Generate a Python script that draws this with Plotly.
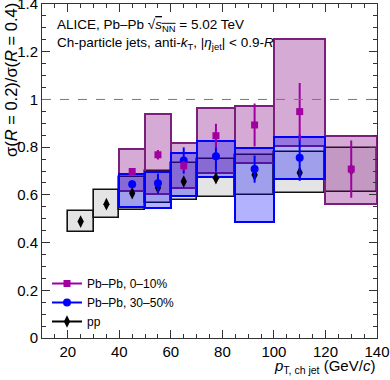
import plotly.graph_objects as go

# ---------------- data ----------------
# Pb-Pb 0-10%
aa010_lo = [40, 50, 60, 70, 85, 100, 120]
aa010_hi = [50, 60, 70, 85, 100, 120, 140]
aa010_val = [0.698, 0.768, 0.722, 0.848, 0.893, 0.949, 0.708]
aa010_stat = [0.012, 0.020, 0.020, 0.050, 0.090, 0.120, 0.120]
aa010_sys_lo = [0.618, 0.603, 0.628, 0.693, 0.735, 0.805, 0.562]
aa010_sys_hi = [0.791, 0.938, 0.817, 0.964, 0.973, 1.253, 0.847]

# Pb-Pb 30-50%
aa3050_lo = [40, 50, 60, 70, 85, 100]
aa3050_hi = [50, 60, 70, 85, 100, 120]
aa3050_val = [0.645, 0.649, 0.744, 0.762, 0.708, 0.756]
aa3050_stat = [0.016, 0.040, 0.055, 0.065, 0.057, 0.097]
aa3050_sys_lo = [0.551, 0.547, 0.597, 0.673, 0.486, 0.666]
aa3050_sys_hi = [0.687, 0.696, 0.777, 0.825, 0.796, 0.844]

# pp
pp_lo = [20, 30, 40, 50, 60, 70, 85, 100, 120]
pp_hi = [30, 40, 50, 60, 70, 85, 100, 120, 140]
pp_val = [0.488, 0.561, 0.607, 0.630, 0.656, 0.670, 0.684, 0.693, 0.705]
pp_stat = [0.008, 0.008, 0.008, 0.008, 0.008, 0.008, 0.008, 0.008, 0.008]
pp_sys_lo = [0.444, 0.501, 0.537, 0.565, 0.579, 0.590, 0.600, 0.607, 0.610]
pp_sys_hi = [0.534, 0.622, 0.674, 0.702, 0.733, 0.750, 0.766, 0.781, 0.798]

# tick labels
x_ticks = [20, 40, 60, 80, 100, 120, 140]
y_ticks = [0, 0.2, 0.4, 0.6, 0.8, 1.0, 1.2, 1.4]
y_tick_text = ["0", "0.2", "0.4", "0.6", "0.8", "1", "1.2", "1.4"]

REF_LINE = 1.0
FONT = "Liberation Sans, Arial, Helvetica, sans-serif"

PURPLE_EDGE = "#7a1f7a"
PURPLE_FILL = "rgba(128,0,128,0.33)"
PURPLE_MK = "#a000a0"
BLUE_EDGE = "#0000ff"
BLUE_FILL = "rgba(0,0,255,0.30)"
PP_FILL = "#e4e4e4"


def centers(lo, hi):
    return [(a + b) / 2 for a, b in zip(lo, hi)]


def widths(lo, hi):
    return [b - a for a, b in zip(lo, hi)]


def heights(lo, hi):
    return [b - a for a, b in zip(lo, hi)]


fig = go.Figure()

# systematic boxes
def add_box(lo, hi, slo, shi, fill, edge, lw):
    fig.add_trace(go.Bar(
        x=centers(lo, hi), width=widths(lo, hi),
        base=slo, y=heights(slo, shi),
        marker=dict(color=fill, line=dict(color=edge, width=lw)),
        showlegend=False, hoverinfo="skip"))

add_box(pp_lo, pp_hi, pp_sys_lo, pp_sys_hi, PP_FILL, "#111111", 1.6)
add_box(aa010_lo, aa010_hi, aa010_sys_lo, aa010_sys_hi, PURPLE_FILL, PURPLE_EDGE, 2)
add_box(aa3050_lo, aa3050_hi, aa3050_sys_lo, aa3050_sys_hi, BLUE_FILL, BLUE_EDGE, 2)

# points with stat errors
fig.add_trace(go.Scatter(
    x=centers(pp_lo, pp_hi), y=pp_val, mode="markers",
    marker=dict(symbol="diamond-tall", size=9, color="black"),
    error_y=dict(type="data", array=pp_stat, color="black", thickness=1.5, width=0),
    showlegend=False, hoverinfo="skip"))
fig.add_trace(go.Scatter(
    x=centers(aa3050_lo, aa3050_hi), y=aa3050_val, mode="markers",
    marker=dict(symbol="circle", size=8, color=BLUE_EDGE),
    error_y=dict(type="data", array=aa3050_stat, color=BLUE_EDGE, thickness=2, width=0),
    showlegend=False, hoverinfo="skip"))
fig.add_trace(go.Scatter(
    x=centers(aa010_lo, aa010_hi), y=aa010_val, mode="markers",
    marker=dict(symbol="square", size=7, color=PURPLE_MK),
    error_y=dict(type="data", array=aa010_stat, color=PURPLE_MK, thickness=2, width=0),
    showlegend=False, hoverinfo="skip"))

# legend entries
for name, sym, col, sz in [("Pb\u2013Pb, 0\u201310%", "square", PURPLE_MK, 7),
                           ("Pb\u2013Pb, 30\u201350%", "circle", BLUE_EDGE, 8),
                           ("pp", "diamond-tall", "black", 9)]:
    fig.add_trace(go.Scatter(
        x=[None], y=[None], mode="lines+markers", name=name,
        marker=dict(symbol=sym, size=sz, color=col),
        line=dict(color=col, width=2)))

fig.add_shape(type="line", xref="paper", x0=0, x1=1, yref="y", y0=REF_LINE, y1=REF_LINE,
              line=dict(color="#777777", width=1, dash="dash"))

axis_common = dict(
    showline=True, linecolor="#333333", linewidth=1, mirror="allticks",
    ticks="inside", tickcolor="#333333", tickwidth=1, ticklen=8,
    showgrid=False, zeroline=False, automargin=False, ticklabeloverflow="allow",
    tickfont=dict(family=FONT, size=15, color="black"),
)

fig.update_xaxes(range=[10, 140], tickvals=x_ticks,
                 minor=dict(dtick=5, tick0=0, ticklen=4, ticks="inside", tickcolor="#333333"),
                 **axis_common)
fig.update_yaxes(range=[0, 1.4001], tickvals=y_ticks, ticktext=y_tick_text,
                 minor=dict(dtick=0.05, tick0=0, ticklen=4, ticks="inside", tickcolor="#333333"),
                 **axis_common)

ml, mr, mt, mb = 42, 13, 4, 42
pw = 390 - ml - mr
ph = 380 - mt - mb


def px(xp):
    return (xp - ml) / pw


def py(yp):
    return (380 - mb - yp) / ph


fig.add_annotation(xref="paper", yref="paper", x=px(55), y=py(26), xanchor="left", yanchor="middle",
                   showarrow=False, font=dict(family=FONT, size=13.5, color="black"),
                   text="ALICE, Pb\u2013Pb \u221a<span style=\"text-decoration:overline\"><i>s</i><sub>NN</sub></span> = 5.02 TeV")
fig.add_annotation(xref="paper", yref="paper", x=px(55), y=py(44), xanchor="left", yanchor="middle",
                   showarrow=False, font=dict(family=FONT, size=13.5, color="black"),
                   text="Ch-particle jets, anti-<i>k</i><sub>T</sub>, |<i>\u03b7</i><sub>jet</sub>| &lt; 0.9-<i>R</i>")
fig.add_annotation(xref="paper", yref="paper", x=px(11), y=py(1), xanchor="center", yanchor="top",
                   textangle=-90, showarrow=False, font=dict(family=FONT, size=16.5, color="black"),
                   text="\u03c3(<i>R</i> = 0.2)/\u03c3(<i>R</i> = 0.4)")
fig.add_annotation(xref="paper", yref="paper", x=1.0, y=py(366), xanchor="right", yanchor="middle",
                   showarrow=False, font=dict(family=FONT, size=15, color="black"),
                   text="<i>p</i><sub>T, ch jet</sub> (GeV/<i>c</i>)")

fig.update_layout(
    width=390, height=380,
    margin=dict(l=ml, r=mr, t=mt, b=mb, pad=0, autoexpand=False),
    paper_bgcolor="white", plot_bgcolor="white",
    barmode="overlay", bargap=0,
    font=dict(family=FONT, color="black"),
    legend=dict(x=px(47), y=py(269), xanchor="left", yanchor="top",
                bgcolor="rgba(0,0,0,0)", font=dict(family=FONT, size=12, color="black"),
                tracegroupgap=0, itemwidth=30),
)

fig.write_html("out.html", config={"displayModeBar": False},
               post_script="document.body.style.margin='0';document.body.style.overflow='hidden';")
